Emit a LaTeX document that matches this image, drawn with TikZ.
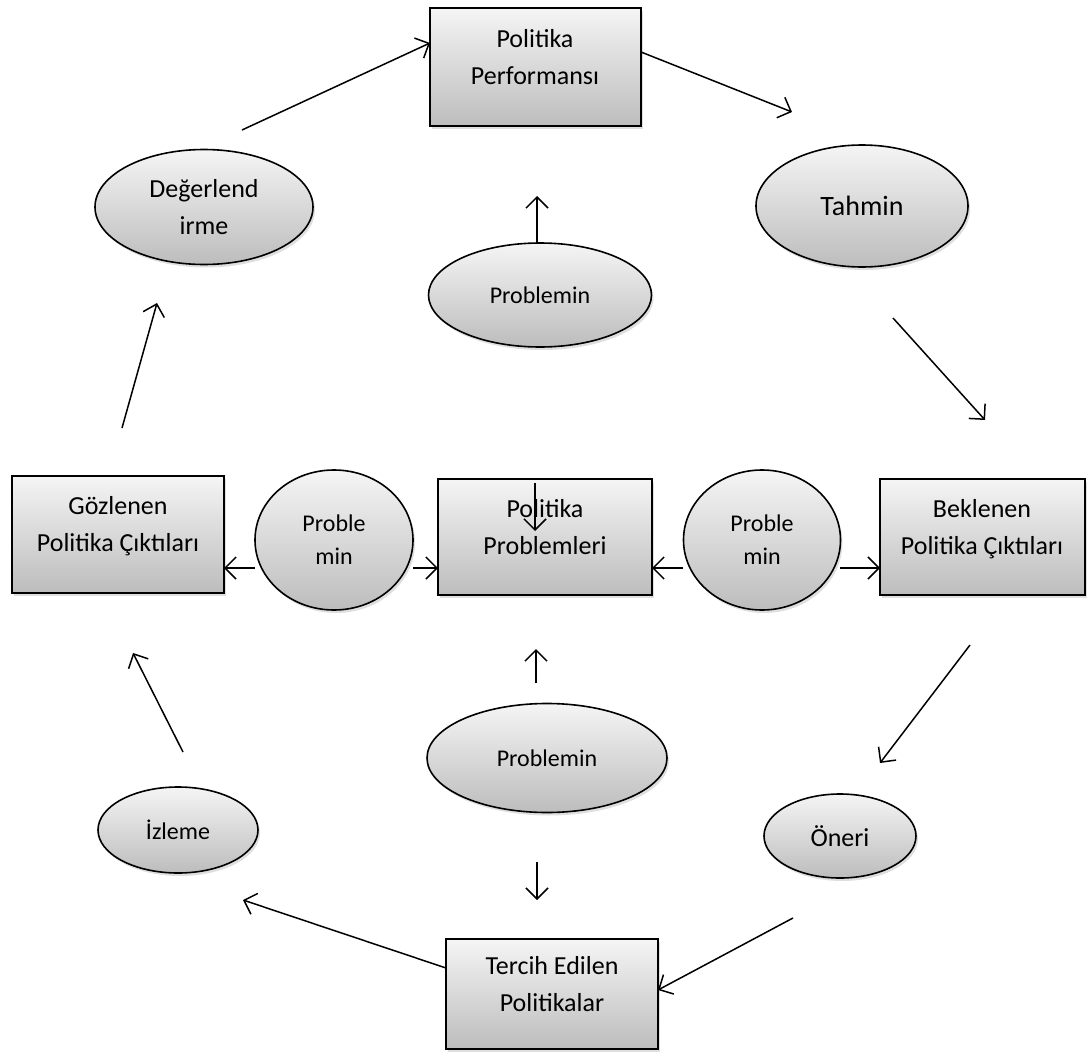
\documentclass[tikz,border=0pt]{standalone}
\usepackage{fontspec}
\setmainfont{Carlito}
\usetikzlibrary{
  arrows.meta,
  shapes.geometric, % Shape "ellipse"
  shadows,          % Key "drop shadow"
}
\tikzset{
  font=\fontsize{26}{37}\selectfont,
  >={Straight Barb[length=11pt,width=22pt]},
  shaded/.style={
    top color=white!96!black,
    bottom color=white!74!black,
    drop shadow={shadow xshift=2pt,shadow yshift=-3pt,opacity=0.25}
  },
  my box/.style={
    shaded,
    draw,
    line width=2pt,
    rectangle,
    inner sep=0pt,
    text depth=21pt, % text sits above the middle
    align=center
  },
  my oval/.style={
    shaded,
    draw,
    line width=1.6pt,
    ellipse,
    inner sep=0pt,
    align=center
  },
  small/.style={font=\fontsize{24}{33}\selectfont},
}

\begin{document}
\begin{tikzpicture}[x=1pt,y=-1pt,line width=1.5pt]
\useasboundingbox (0,0) rectangle (1088,1052);
% boxes
\node[my box,minimum width=211pt,minimum height=118pt] (perf)     at (535,67)  {Politika\\Performansı};
\node[my box,minimum width=212pt,minimum height=117pt] (gozlenen) at (118,534) {Gözlenen\\Politika Çıktıları};
\node[my box,minimum width=214pt,minimum height=116pt] (polprob)  at (545,537) {Politika\\Problemleri};
\node[my box,minimum width=205pt,minimum height=116pt] (beklenen) at (982,537) {Beklenen\\Politika Çıktıları};
\node[my box,minimum width=212pt,minimum height=110pt] (tercih)   at (552,994) {Tercih Edilen\\Politikalar};
% ovals
\node[my oval,minimum width=218pt,minimum height=115pt] (degr)    at (204,207) {Değerlend\\irme};
\node[my oval,minimum width=212pt,minimum height=122pt,font=\fontsize{28}{34}\selectfont] (tahmin) at (862,206) {Tahmin};
\node[my oval,small,minimum width=223pt,minimum height=104pt] (probtop) at (540,295) {Problemin};
\node[my oval,small,minimum width=158pt,minimum height=140pt] (probL)   at (334,540) {Proble\\min};
\node[my oval,small,minimum width=157pt,minimum height=140pt] (probR)   at (762,540) {Proble\\min};
\node[my oval,small,minimum width=240pt,minimum height=109pt] (probbot) at (547,758) {Problemin};
\node[my oval,small,minimum width=160pt,minimum height=86pt]  (izleme)  at (178,830) {İzleme};
\node[my oval,minimum width=152pt,minimum height=84pt]        (oneri)   at (840,836) {Öneri};
% arrow ends
\coordinate (a1s) at (242,130);  \coordinate (a1e) at (430,43);
\coordinate (a2s) at (641,52);   \coordinate (a2e) at (792,112);
\coordinate (a3s) at (537,243);  \coordinate (a3e) at (537,196);
\coordinate (a4s) at (893,318);  \coordinate (a4e) at (985,420);
\coordinate (a5s) at (122,428);  \coordinate (a5e) at (157,303);
\coordinate (a6s) at (535,483);  \coordinate (a6e) at (535,531);
\coordinate (a7s) at (255,568);  \coordinate (a7e) at (224,568);
\coordinate (a8s) at (413,568);  \coordinate (a8e) at (438,568);
\coordinate (a9s) at (683,568);  \coordinate (a9e) at (652,568);
\coordinate (a10s) at (840,568); \coordinate (a10e) at (880,568);
\coordinate (a11s) at (536,683); \coordinate (a11e) at (536,649);
\coordinate (a12s) at (970,645); \coordinate (a12e) at (880,763);
\coordinate (a13s) at (183,752); \coordinate (a13e) at (133,653);
\coordinate (a14s) at (537,862); \coordinate (a14e) at (537,900);
\coordinate (a15s) at (446,968); \coordinate (a15e) at (243,900);
\coordinate (a16s) at (793,918); \coordinate (a16e) at (658,990);
\path[->] (a1s)  edge (a1e)
          (a2s)  edge (a2e)
          (a3s)  edge (a3e)
          (a4s)  edge (a4e)
          (a5s)  edge (a5e)
          (a6s)  edge (a6e)
          (a7s)  edge (a7e)
          (a8s)  edge (a8e)
          (a9s)  edge (a9e)
          (a10s) edge (a10e)
          (a11s) edge (a11e)
          (a12s) edge (a12e)
          (a13s) edge (a13e)
          (a14s) edge (a14e)
          (a15s) edge (a15e)
          (a16s) edge (a16e);
\end{tikzpicture}
\end{document}
